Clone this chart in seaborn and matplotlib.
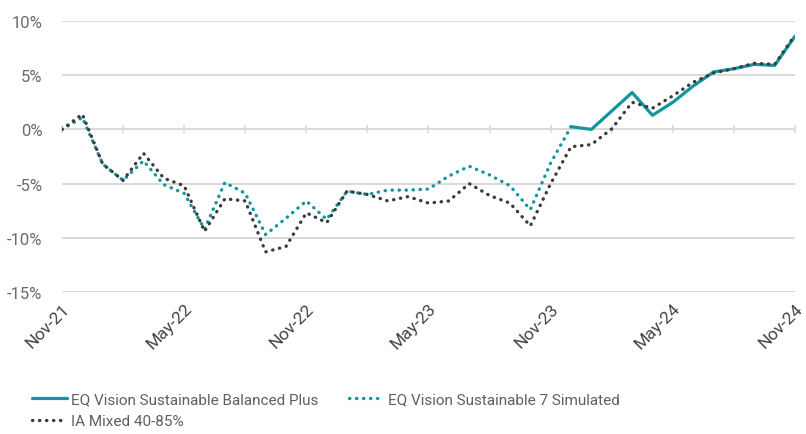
import numpy as np
import pandas as pd
import matplotlib
matplotlib.use("Agg")
import matplotlib.pyplot as plt
import seaborn as sns

# monthly points, Nov-21 .. Nov-24
months = pd.date_range("2021-11-01", "2024-11-01", freq="MS").strftime("%b-%y").tolist()

ia_mixed = [0.0, 1.4, -3.2, -4.7, -2.2, -4.5, -5.2, -9.4, -6.4, -6.6, -11.3, -10.8, -7.7,
            -8.6, -5.7, -6.0, -6.6, -6.2, -6.8, -6.6, -5.0, -6.1, -6.8, -8.9, -5.0,
            -1.6, -1.4, 0.05, 2.5, 1.95, 3.1, 4.35, 5.2, 5.6, 6.1, 6.0, 8.7]

simulated = [0.0, 1.1, -3.2, -4.7, -2.9, -5.1, -5.9, -9.2, -4.9, -5.9, -9.7, -8.2, -6.6,
             -8.3, -5.7, -6.0, -5.6, -5.6, -5.5, -4.3, -3.4, -4.2, -5.2, -7.4, -3.1, 0.25]

balanced_plus = [0.25, 0.0, 1.7, 3.4, 1.3, 2.5, 4.0, 5.3, 5.6, 6.0, 5.9, 8.6]

teal = "#12959c"
dark = "#3b3b3b"

df_ia = pd.DataFrame({"m": range(len(ia_mixed)), "v": ia_mixed})
df_sim = pd.DataFrame({"m": range(len(simulated)), "v": simulated})
df_bp = pd.DataFrame({"m": range(25, 25 + len(balanced_plus)), "v": balanced_plus})

sns.set_style("white")
plt.rcParams["font.family"] = ["Roboto", "DejaVu Sans"]

fig = plt.figure(figsize=(8.06, 4.35), dpi=100)
ax = fig.add_axes([62 / 806, 1 - 293 / 435, (795 - 62) / 806, (293 - 22) / 435])

dots = (0, (0.1, 2.0))
sns.lineplot(data=df_bp, x="m", y="v", ax=ax, color=teal, linewidth=2.3,
             label="EQ Vision Sustainable Balanced Plus")
sns.lineplot(data=df_sim, x="m", y="v", ax=ax, color=teal, linewidth=2.4,
             linestyle=dots, dash_capstyle="round", label="EQ Vision Sustainable 7 Simulated")
sns.lineplot(data=df_ia, x="m", y="v", ax=ax, color=dark, linewidth=2.4,
             linestyle=dots, dash_capstyle="round", label="IA Mixed 40-85%")

ax.set_xlim(0, 36)
ax.set_ylim(-15, 10)
ax.set_yticks(range(-15, 11, 5))
ax.set_yticklabels([f"{t}%" for t in range(-15, 11, 5)])
ax.yaxis.grid(True, color="#d9d9d9", linewidth=1.4)
ax.set_axisbelow(True)
for s in ax.spines.values():
    s.set_visible(False)

ax.set_xticks(range(0, 37, 6))
ax.set_xticklabels(months[::6], rotation=45, ha="right", rotation_mode="anchor")
ax.tick_params(axis="x", length=0, pad=6, labelsize=12.5, labelcolor="#444444")
ax.tick_params(axis="y", length=0, pad=14, labelsize=12, labelcolor="#6a6a6a")
ax.set_xlabel("")
ax.set_ylabel("")

# axis line with ticks on the zero line
sec = ax.secondary_xaxis(15 / 25)
sec.set_xticks(range(0, 37, 3))
sec.tick_params(axis="x", direction="inout", length=6, width=1.2, color="#d9d9d9",
                labelbottom=False, labeltop=False)
sec.spines["bottom"].set_visible(False)
sec.spines["top"].set_visible(False)

h, l = ax.get_legend_handles_labels()
ax.get_legend().remove()
kw = dict(loc="upper left", frameon=False, fontsize=11, labelcolor="#5f5f5f",
          handlelength=2.3, handletextpad=0.3, labelspacing=0.5)
fig.legend([h[0], h[2]], [l[0], l[2]], bbox_to_anchor=(18 / 806, 1 - 380 / 435), **kw)
fig.legend([h[1]], [l[1]], bbox_to_anchor=(335 / 806, 1 - 380 / 435), **kw)

fig.savefig("out.png", dpi=100)
